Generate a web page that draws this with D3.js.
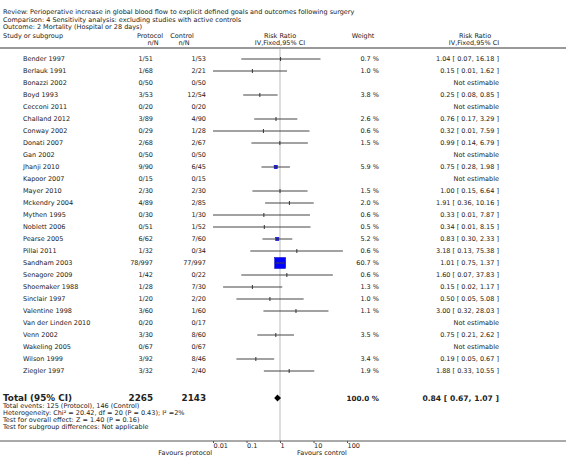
<!DOCTYPE html>
<html><head><meta charset="utf-8">
<script src="https://cdn.jsdelivr.net/npm/d3@7"></script>
<style>body{margin:0;background:#fff}svg{display:block}text{font-family:"DejaVu Sans",sans-serif;fill:#222}</style>
</head><body><div id="chart"></div>
<script>
const titleLines = [
  "Review:  Perioperative increase in global blood flow to explicit defined goals and outcomes following surgery",
  "Comparison:  4 Sensitivity analysis: excluding studies with active controls",
  "Outcome:  2 Mortality (Hospital or 28 days)"
];
const studies = ["Bender 1997","Berlauk 1991","Bonazzi 2002","Boyd 1993","Cecconi 2011","Challand 2012","Conway 2002","Donati 2007","Gan 2002","Jhanji 2010","Kapoor 2007","Mayer 2010","Mckendry 2004","Mythen 1995","Noblett 2006","Pearse 2005","Pillai 2011","Sandham 2003","Senagore 2009","Shoemaker 1988","Sinclair 1997","Valentine 1998","Van der Linden 2010","Venn 2002","Wakeling 2005","Wilson 1999","Ziegler 1997"];
const protocolN = ["1/51","1/68","0/50","3/53","0/20","3/89","0/29","2/68","0/50","9/90","0/15","2/30","4/89","0/30","0/51","6/62","1/32","78/997","1/42","1/28","1/20","3/60","0/20","3/30","0/67","3/92","3/32"];
const controlN = ["1/53","2/21","0/50","12/54","0/20","4/90","1/28","2/67","0/50","6/45","0/15","2/30","2/85","1/30","1/52","7/60","0/34","77/997","0/22","7/30","2/20","1/60","0/17","8/60","0/67","8/46","2/40"];
const rr = [1.04,0.15,null,0.25,null,0.76,0.32,0.99,null,0.75,null,1.00,1.91,0.33,0.34,0.83,3.18,1.01,1.60,0.15,0.50,3.00,null,0.75,null,0.19,1.88];
const lo = [0.07,0.01,null,0.08,null,0.17,0.01,0.14,null,0.28,null,0.15,0.36,0.01,0.01,0.30,0.13,0.75,0.07,0.02,0.05,0.32,null,0.21,null,0.05,0.33];
const hi = [16.18,1.62,null,0.85,null,3.29,7.59,6.79,null,1.98,null,6.64,10.16,7.87,8.15,2.33,75.38,1.37,37.83,1.17,5.08,28.03,null,2.62,null,0.67,10.55];
const weights = [0.7,1.0,null,3.8,null,2.6,0.6,1.5,null,5.9,null,1.5,2.0,0.6,0.5,5.2,0.6,60.7,0.6,1.3,1.0,1.1,null,3.5,null,3.4,1.9];
const total = {label:"Total (95% CI)", protocol:"2265", control:"2143", weight:"100.0 %", rr:0.84, lo:0.67, hi:1.07};
const footer = [
  "Total events: 125 (Protocol), 146 (Control)",
  "Heterogeneity: Chi\u00B2 = 20.42, df = 20 (P = 0.43); I\u00B2 =2%",
  "Test for overall effect: Z = 1.40 (P = 0.16)",
  "Test for subgroup differences: Not applicable"
];
const tickValues = [0.01,0.1,1,10,100];
const tickLabels = ["0.01","0.1","1","10","100"];

const W = 566, H = 457;
const svg = d3.select("#chart").append("svg").attr("width",W).attr("height",H);
const fs = 6.5;
const x = d3.scaleLog().domain([0.01,100]).range([213,347]);
const y = d3.scaleLinear().domain([0, studies.length-1]).range([59, 371]);
const fmt = d3.format(".2f");

// titles
svg.selectAll("text.title").data(titleLines).enter().append("text")
  .attr("x",3).attr("y",(d,i)=>12+i*7.4).attr("dy","0.35em").attr("font-size",fs).text(d=>d);

// headers
const hdr = [
  {t:"Study or subgroup",x:3,y:36,a:"start"},
  {t:"Protocol",x:150,y:36,a:"middle"},{t:"n/N",x:153,y:43,a:"middle"},
  {t:"Control",x:182,y:36,a:"middle"},{t:"n/N",x:184,y:43,a:"middle"},
  {t:"Risk Ratio",x:280,y:36,a:"middle"},{t:"IV,Fixed,95% CI",x:280,y:43,a:"middle"},
  {t:"Weight",x:363,y:36,a:"middle"},
  {t:"Risk Ratio",x:475,y:36,a:"middle"},{t:"IV,Fixed,95% CI",x:474,y:43,a:"middle"}
];
svg.selectAll("text.hdr").data(hdr).enter().append("text")
  .attr("x",d=>d.x).attr("y",d=>d.y).attr("dy","0.35em").attr("text-anchor",d=>d.a)
  .attr("font-size",fs).text(d=>d.t);
svg.append("line").attr("x1",0).attr("x2",W).attr("y1",48).attr("y2",48)
  .attr("stroke","#999").attr("stroke-width",2);

// null line
svg.append("line").attr("x1",x(1)).attr("x2",x(1)).attr("y1",49).attr("y2",441)
  .attr("stroke","#ddd").attr("stroke-width",2);

const rows = studies.map((s,i)=>({s,i,p:protocolN[i],c:controlN[i],rr:rr[i],lo:lo[i],hi:hi[i],w:weights[i]}));
const g = svg.append("g");
const rowG = g.selectAll("g.row").data(rows).enter().append("g").attr("transform",d=>`translate(0,${y(d.i)})`);
rowG.append("text").attr("x",23).attr("dy","0.35em").attr("font-size",fs).text(d=>d.s);
rowG.append("text").attr("x",153).attr("dy","0.35em").attr("text-anchor","end").attr("font-size",fs).text(d=>d.p);
rowG.append("text").attr("x",206).attr("dy","0.35em").attr("text-anchor","end").attr("font-size",fs).text(d=>d.c);
rowG.append("text").attr("x",379).attr("dy","0.35em").attr("text-anchor","end").attr("font-size",fs)
  .text(d=>d.w==null?"":d.w.toFixed(1)+" %");
rowG.append("text").attr("x",499).attr("dy","0.35em").attr("text-anchor","end").attr("font-size",fs)
  .text(d=>d.rr==null?"Not estimable":`${fmt(d.rr)} [ ${fmt(d.lo)}, ${fmt(d.hi)} ]`);

const est = rowG.filter(d=>d.rr!=null);
est.each(function(d){
  const gg = d3.select(this);
  const s = 1.41*Math.sqrt(d.w);
  if (s >= 3) {
    gg.append("rect").attr("x",x(d.rr)-s/2).attr("y",-s/2).attr("width",s).attr("height",s)
      .attr("fill","#0000ff").attr("stroke","#0000aa").attr("stroke-width",0.5);
  }
  gg.append("line").attr("x1",x(Math.max(d.lo,0.01))).attr("x2",x(Math.min(d.hi,100)))
    .attr("y1",0).attr("y2",0).attr("stroke","#444").attr("stroke-width",1);
  if (s < 3) {
    gg.append("line").attr("x1",x(d.rr)).attr("x2",x(d.rr)).attr("y1",-2).attr("y2",2)
      .attr("stroke","#333").attr("stroke-width",1);
  }
});

// total row
const ty = 398;
svg.append("text").attr("x",3).attr("y",ty).attr("dy","0.35em").attr("font-size",8.8).attr("font-weight","bold").text(total.label);
svg.append("text").attr("x",153).attr("y",ty).attr("dy","0.35em").attr("text-anchor","end").attr("font-size",8.8).attr("font-weight","bold").text(total.protocol);
svg.append("text").attr("x",206).attr("y",ty).attr("dy","0.35em").attr("text-anchor","end").attr("font-size",8.8).attr("font-weight","bold").text(total.control);
svg.append("text").attr("x",379).attr("y",ty).attr("dy","0.35em").attr("text-anchor","end").attr("font-size",7.2).attr("font-weight","bold").text(total.weight);
svg.append("text").attr("x",499).attr("y",ty).attr("dy","0.35em").attr("text-anchor","end").attr("font-size",7.6).attr("font-weight","bold")
  .text(`${fmt(total.rr)} [ ${fmt(total.lo)}, ${fmt(total.hi)} ]`);
const dx1 = x(total.lo), dx2 = x(total.hi), dxm = x(total.rr);
svg.append("path").attr("d",`M${dx1},${ty} L${dxm},${ty-3.5} L${dx2},${ty} L${dxm},${ty+3.5} Z`).attr("fill","#000");

// footer
svg.selectAll("text.foot").data(footer).enter().append("text")
  .attr("x",3).attr("y",(d,i)=>406+i*7).attr("dy","0.35em").attr("font-size",fs).text(d=>d);

// axis
svg.append("line").attr("x1",0).attr("x2",W).attr("y1",441).attr("y2",441).attr("stroke","#555").attr("stroke-width",1);
const axG = svg.append("g").attr("transform","translate(0,441)");
axG.call(d3.axisBottom(x).tickValues(tickValues).tickFormat((d,i)=>tickLabels[i]).tickSize(2));
axG.select(".domain").remove();
axG.selectAll(".tick line").attr("stroke","#555");
axG.selectAll(".tick text").attr("font-size",fs).attr("font-family","DejaVu Sans").attr("fill","#222")
  .attr("text-anchor","start").attr("x",0).attr("dy","0.6em").attr("y",3);
svg.append("text").attr("x",212).attr("y",453).attr("dy","0.35em").attr("text-anchor","end").attr("font-size",fs).text("Favours protocol");
svg.append("text").attr("x",297).attr("y",453).attr("dy","0.35em").attr("font-size",fs).text("Favours control");
</script></body></html>
